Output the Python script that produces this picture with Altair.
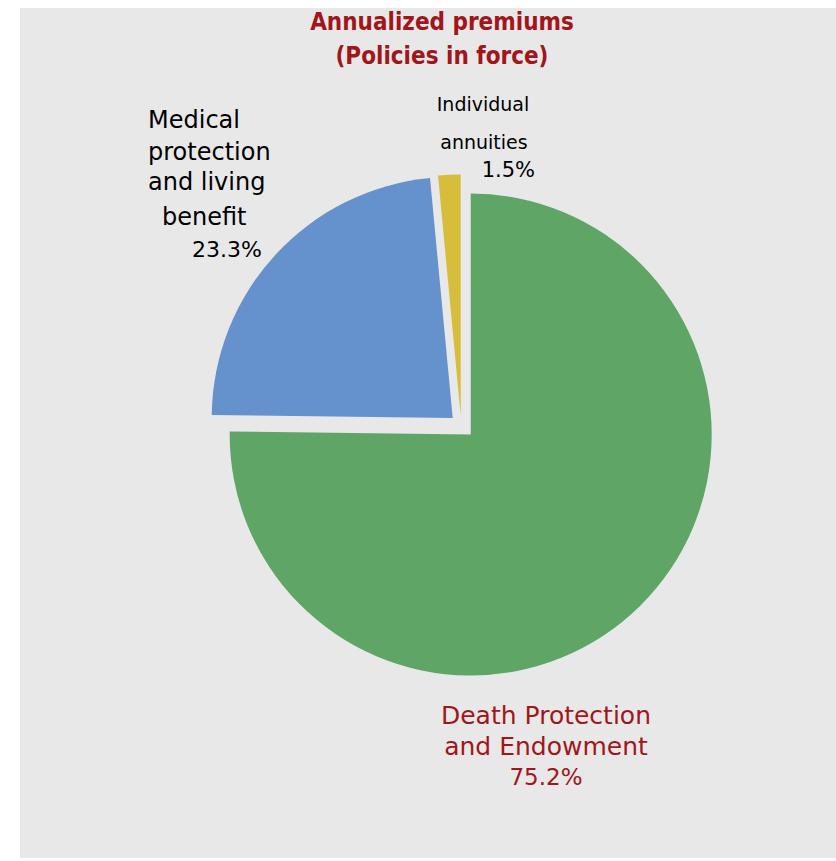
import math
import altair as alt
import pandas as pd

# ---- data ----
categories = ["Death Protection and Endowment", "Medical protection and living benefit", "Individual annuities"]
shares = [75.2, 23.3, 1.5]
colors = ["#5ea566", "#6592cc", "#d6bd3c"]
title_lines = ["Annualized premiums", "(Policies in force)"]

df = pd.DataFrame({"category": categories, "share": shares, "order": list(range(len(categories)))})

# ---- layout (view coordinates) ----
CX, CY, R = 450.7, 426.5, 241
explode = {categories[0]: (0, 0), categories[1]: (-18, -16.5), categories[2]: (-10, -19)}

theta_scale = alt.Scale(domain=[0, 100], range=[0, 2 * math.pi])
color_scale = alt.Scale(domain=categories, range=colors)

arcs = []
for cat in categories:
    dx, dy = explode[cat]
    arcs.append(
        alt.Chart(df)
        .transform_window(cum="sum(share)", sort=[alt.SortField("order")], frame=[None, 0])
        .transform_calculate(start="datum.cum - datum.share")
        .transform_filter(alt.datum.category == cat)
        .mark_arc(outerRadius=R)
        .encode(
            theta=alt.Theta("start:Q", scale=theta_scale),
            theta2="cum:Q",
            color=alt.Color("category:N", scale=color_scale, legend=None),
            x=alt.value(CX + dx),
            y=alt.value(CY + dy),
        )
    )

pct = [f"{v:.1f}%" for v in shares]
red = "#a0161a"
FONT = "DejaVu Sans"
TFONT = "DejaVu Sans Condensed"

# label lines: text, x, y, size, align, color, weight, font
lines = [
    (title_lines[0], 422, 15, 24, "center", red, "bold", TFONT),
    (title_lines[1], 422, 49, 24, "center", red, "bold", TFONT),
    ("Medical", 128, 113, 24, "left", "black", "normal", FONT),
    ("protection", 128, 145, 24, "left", "black", "normal", FONT),
    ("and living", 128, 175, 24, "left", "black", "normal", FONT),
    ("benefit", 142, 210, 24, "left", "black", "normal", FONT),
    (pct[1], 242, 242, 22, "right", "black", "normal", FONT),
    ("Individual", 463, 97, 19, "center", "black", "normal", FONT),
    ("annuities", 464, 135, 19, "center", "black", "normal", FONT),
    (pct[2], 515, 163, 21, "right", "black", "normal", FONT),
    ("Death Protection", 526, 708, 25, "center", red, "normal", FONT),
    ("and Endowment", 526, 739, 25, "center", red, "normal", FONT),
    (pct[0], 526, 770, 23, "center", red, "normal", FONT),
]
ldf = pd.DataFrame(lines, columns=["text", "px", "py", "size", "align", "color", "weight", "font"])

texts = []
for (size, align, color, weight, font), g in ldf.groupby(["size", "align", "color", "weight", "font"]):
    texts.append(
        alt.Chart(g)
        .mark_text(font=font, fontSize=int(size), align=align, baseline="middle",
                   color=color, fontWeight=weight)
        .encode(x=alt.X("px:Q", scale=None), y=alt.Y("py:Q", scale=None), text="text:N")
    )

chart = (
    alt.layer(*arcs, *texts)
    .properties(
        width=816, height=850,
        autosize=alt.AutoSizeParams(type="none"),
        padding={"left": 20, "top": 8, "right": 0, "bottom": 3},
        background="white",
    )
    .configure_view(fill="#e8e8e8", stroke=None)
)

chart.save("out.html", embed_options={"renderer": "svg", "actions": False})
